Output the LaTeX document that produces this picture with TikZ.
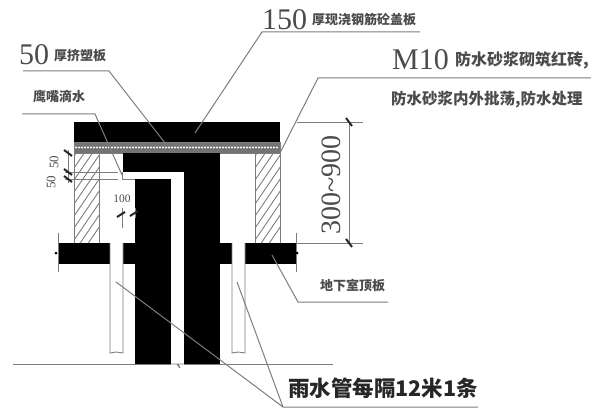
\documentclass[tikz,border=0pt]{standalone}
\usepackage{xcolor}
\usepackage{fontspec}
\setmainfont{Liberation Serif}
\newfontfamily\cjk{Noto Sans CJK SC}
\usetikzlibrary{positioning}
\definecolor{leadergray}{RGB}{125,125,125}
\definecolor{textgray}{RGB}{75,75,75}
\tikzset{
  leader/.style={draw=leadergray, line width=1pt},
  outline/.style={draw=leadergray, line width=0.9pt},
  concrete/.style={fill=black},
  tick/.style={draw=black!85, line width=2pt},
  cnlabel/.style={inner sep=0pt, text=textgray, font=\cjk\bfseries\fontsize{13}{13}\selectfont},
  numlabel/.style={inner sep=0pt, text=textgray},
}
\begin{document}
\begin{tikzpicture}[x=1pt, y=-1pt]
\useasboundingbox (0,0) rectangle (591,409);
% slab and insulation
\fill[concrete] (74,122) rectangle (280,142);
\draw[outline, fill=black!55] (74,142) rectangle (280,153);
\foreach \x in {76,79,...,277} {
  \fill[white] (\x,147.5) circle (1.1pt);
}
% brick walls
\begin{scope}
  \clip (74,153) rectangle (99,243);
  \foreach \y in {150,162,...,280} {
    \draw[outline] (70,\y) -- (104,\y-50);
  }
\end{scope}
\begin{scope}
  \clip (255,153) rectangle (280,243);
  \foreach \y in {150,162,...,280} {
    \draw[outline] (251,\y) -- (285,\y-50);
  }
\end{scope}
\draw[outline] (74,153) rectangle (99,243);
\draw[outline] (255,153) rectangle (280,243);
% cap and pipes
\fill[concrete] (123,153) rectangle (220,172);
\fill[concrete] (184,153) rectangle (220,364);
\fill[concrete] (135,179) rectangle (171,364);
\draw[outline] (122,172) -- (122,179) -- (135,179);
% basement roof
\fill[concrete] (58,243) rectangle (135,264);
\fill[concrete] (220,243) rectangle (296,264);
\draw[outline, fill=white] (110,243) -- (110,353) -- (116,352) -- (123,353) -- (123,243);
\draw[outline, fill=white] (232,243) -- (232,353) -- (238,352) -- (245,353) -- (245,243);
\draw[outline] (58,233) -- (58,272);
\draw[outline] (296,233) -- (296,272);
\fill (56,253) circle (1.5pt);
\fill (297,253) circle (1.5pt);
% ground line
\draw[outline] (13,364) -- (171,364);
\draw[outline] (171,364) -- (177,364) -- (180,368) -- (178,364) -- (184,364);
\draw[outline] (184,364) -- (333,364);
% labels
\node[numlabel, anchor=west, font=\fontsize{30}{30}\selectfont] (thk150) at (262,20) {150};
\node[cnlabel, anchor=west] (roofcn) at (312,20) {厚现浇钢筋砼盖板};
\node[numlabel, anchor=west, font=\fontsize{30}{30}\selectfont] (thk50) at (19,55) {50};
\node[cnlabel, anchor=west] (boardcn) at (54,56) {厚挤塑板};
\node[cnlabel, anchor=west] (dripcn) at (33,97) {鹰嘴滴水};
\node[numlabel, anchor=west, font=\fontsize{30}{30}\selectfont] (m10) at (392,60) {M10};
\node[cnlabel, anchor=west, font=\cjk\bfseries\fontsize{16}{16}\selectfont] (wallcn) at (455,60) {防水砂浆砌筑红砖,};
\node[cnlabel, anchor=west, font=\cjk\bfseries\fontsize{15.5}{16}\selectfont] (plastercn) at (391,100) {防水砂浆内外批荡,防水处理};
\node[cnlabel, anchor=west] (roofb) at (320,285) {地下室顶板};
\node[cnlabel, anchor=west, text=black!85, font=\cjk\bfseries\fontsize{21.5}{22}\selectfont] (rain) at (288,388) {雨水管每隔12米1条};
\node[numlabel, rotate=90, font=\fontsize{28}{28}\selectfont] (dimh) at (331,185) {300\textasciitilde900};
\node[numlabel, rotate=90, font=\fontsize{13}{13}\selectfont] (dimb) at (54,162) {50};
\node[numlabel, rotate=90, font=\fontsize{13}{13}\selectfont] (dimc) at (51,182) {50};
\node[numlabel, font=\fontsize{11.5}{11.5}\selectfont] (dimd) at (122,199) {100};
% leaders
\coordinate (roofk) at (262,32);
\coordinate (roofe) at (420,32);
\coordinate (rooft) at (195,133);
\draw[leader] (rooft) -- (roofk) -- (roofe);
\coordinate (boarda) at (23,71);
\coordinate (boardk) at (109,71);
\coordinate (boardt) at (165,143);
\draw[leader] (boarda) -- (boardk) -- (boardt);
\coordinate (dripa) at (22,114);
\coordinate (dripk) at (95,114);
\coordinate (dript) at (122,175);
\draw[leader] (dripa) -- (dripk) -- (dript);
\coordinate (walla) at (591,78);
\coordinate (wallk) at (318,78);
\coordinate (wallt) at (280,153);
\draw[leader] (walla) -- (wallk) -- (wallt);
\coordinate (slabe) at (388,302);
\coordinate (slabk) at (298,302);
\coordinate (slabt) at (272,255);
\draw[leader] (slabe) -- (slabk) -- (slabt);
\coordinate (raine) at (478,407);
\coordinate (raink) at (283,407);
\coordinate (rainl) at (116,282);
\coordinate (rainr) at (237,282);
\draw[leader] (raine) -- (raink) -- (rainl);
\draw[leader] (raink) -- (rainr);
% dimensions
\draw[outline] (297,122) -- (363,122);
\draw[outline] (296,243) -- (363,243);
\draw[outline] (349,122) -- (349,243);
\draw[tick] (346,118) -- (352,126);
\draw[tick] (346,239) -- (352,247);
\draw[outline] (68,150) -- (68,183);
\draw[outline] (65,172) -- (118,172);
\draw[outline] (65,179) -- (118,179);
\foreach \y in {153,172,179} {
  \draw[tick] (64,\y-3) -- (72,\y+3);
}
\draw[outline] (122,208) -- (122,228);
\draw[outline] (135,208) -- (135,218);
\draw[tick] (117,217) -- (125,212);
\draw[tick] (130,216) -- (138,211);
\end{tikzpicture}
\end{document}
